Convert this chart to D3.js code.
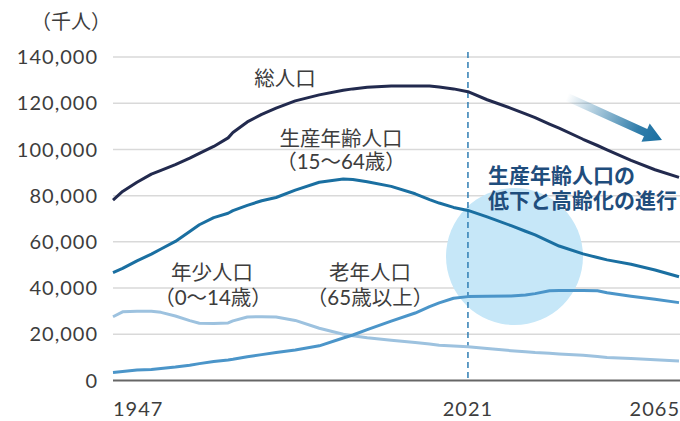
<!doctype html>
<html>
  <head>
    <meta charset="utf-8">
    <script src="https://cdn.jsdelivr.net/npm/d3@7"></script>
    <style>
      body { margin: 0; background: #fff; }
      text { font-family: Lato, "Noto Sans CJK JP", sans-serif; }
    </style>
  </head>
  <body>
    <div id="chart"></div>
    <script>
      // data (thousand people)
      var years    = [1947, 1949, 1952, 1955, 1957, 1960, 1963, 1965, 1968, 1971, 1972, 1975, 1978, 1981, 1985, 1990, 1995, 1997, 2000, 2005, 2010, 2013, 2015, 2018, 2021, 2025, 2030, 2033, 2035, 2038, 2040, 2045, 2048, 2050, 2055, 2060, 2065];
      var total    = [78100, 81800, 85800, 89300, 90900, 93400, 96200, 98300, 101300, 105000, 107300, 111900, 115200, 117900, 121000, 123600, 125600, 126200, 126900, 127500, 127500, 127400, 127000, 126200, 125000, 121500, 117800, 115400, 113800, 111000, 109200, 104400, 101700, 99800, 95300, 91200, 87900];
      var working  = [46700, 48500, 51800, 54700, 56900, 60200, 64500, 67400, 70500, 72400, 73500, 75800, 77800, 79200, 82400, 85800, 87200, 87000, 86000, 84000, 80800, 78300, 76800, 74900, 73600, 70800, 67000, 64600, 63000, 60100, 58200, 54800, 53200, 52200, 50300, 47800, 44900];
      var children = [27600, 29700, 30000, 30000, 29500, 27900, 25900, 24800, 24700, 24900, 25800, 27500, 27600, 27500, 26000, 22600, 20000, 19400, 18500, 17400, 16400, 15800, 15300, 14900, 14600, 13800, 12900, 12400, 12100, 11800, 11500, 10900, 10400, 10000, 9500, 9000, 8400];
      var elderly  = [3500, 3900, 4500, 4800, 5200, 5800, 6600, 7300, 8200, 8900, 9200, 10300, 11200, 12100, 13200, 15000, 18400, 19700, 22000, 25700, 29200, 32000, 33600, 35600, 36300, 36500, 36600, 37000, 37600, 38800, 38900, 38900, 38800, 38000, 36500, 35200, 33700];

      var yTicks = [0, 20000, 40000, 60000, 80000, 100000, 120000, 140000];
      var xTicks = [1947, 2021, 2065];
      var splitYear = 2021;

      var width = 680, height = 421;
      var svg = d3.select("#chart").append("svg")
        .attr("width", width)
        .attr("height", height);

      var x = d3.scaleLinear().domain([1947, 2065]).range([113, 679]);
      var y = d3.scaleLinear().domain([0, 140000]).range([380.5, 57]);

      // unit label
      svg.append("text")
        .attr("x", 31).attr("y", 29)
        .style("font-size", "20px").style("fill", "#3d3d3d")
        .text("（千人）");

      // grid
      svg.append("g")
        .selectAll("line")
        .data(yTicks.slice(1))
        .enter().append("line")
          .attr("x1", 113).attr("x2", 680)
          .attr("y1", function(d) { return y(d); })
          .attr("y2", function(d) { return y(d); })
          .attr("stroke", "#d9d9d9")
          .attr("stroke-width", 1.5);

      // y labels
      svg.append("g")
        .selectAll("text")
        .data(yTicks)
        .enter().append("text")
          .attr("x", 98)
          .attr("y", function(d) { return y(d); })
          .attr("dy", "0.36em")
          .attr("text-anchor", "end")
          .style("font-size", "20px")
          .style("letter-spacing", "1px")
          .style("fill", "#3d3d3d")
          .text(function(d) { return d3.format(",")(d); });

      // highlight circle
      svg.append("circle")
        .attr("cx", 514.5).attr("cy", 256.5).attr("r", 68.5)
        .attr("fill", "#c6e7f8");

      // baseline
      svg.append("line")
        .attr("x1", 113).attr("x2", 680)
        .attr("y1", y(0)).attr("y2", y(0))
        .attr("stroke", "#666666")
        .attr("stroke-width", 2);

      // x labels
      svg.append("g")
        .selectAll("text")
        .data(xTicks)
        .enter().append("text")
          .attr("x", function(d, i) { return i == xTicks.length - 1 ? 680 : x(d); })
          .attr("y", 416)
          .attr("text-anchor", function(d, i) { return i == 0 ? "start" : (i == xTicks.length - 1 ? "end" : "middle"); })
          .style("font-size", "20px")
          .style("letter-spacing", "1px")
          .style("fill", "#3d3d3d")
          .text(function(d) { return d; });

      // 2021 dashed line
      svg.append("line")
        .attr("x1", x(splitYear)).attr("x2", x(splitYear))
        .attr("y1", 52).attr("y2", y(0))
        .attr("stroke", "#2f7db3")
        .attr("stroke-width", 1.5)
        .attr("stroke-dasharray", "6,4");

      // lines
      var series = [
        { values: children, color: "#9dc2df" },
        { values: elderly,  color: "#4b95c9" },
        { values: working,  color: "#1a6fa1" },
        { values: total,    color: "#222a4e" }
      ];
      var line = d3.line()
        .x(function(d) { return x(d[0]); })
        .y(function(d) { return y(d[1]); });

      series.forEach(function(s) {
        svg.append("path")
          .datum(years.map(function(yr, i) { return [yr, s.values[i]]; }))
          .attr("d", line)
          .attr("fill", "none")
          .attr("stroke", s.color)
          .attr("stroke-width", 3)
          .attr("stroke-linejoin", "round");
      });

      // arrow with gradient
      var defs = svg.append("defs");
      var grad = defs.append("linearGradient")
        .attr("id", "arrowGrad")
        .attr("gradientUnits", "userSpaceOnUse")
        .attr("x1", 567).attr("y1", 97).attr("x2", 662).attr("y2", 140);
      grad.append("stop").attr("offset", "0").attr("stop-color", "#1a6fa1").attr("stop-opacity", 0);
      grad.append("stop").attr("offset", "0.75").attr("stop-color", "#1a6fa1").attr("stop-opacity", 0.9);
      grad.append("stop").attr("offset", "1").attr("stop-color", "#1a6fa1").attr("stop-opacity", 1);

      var ax0 = 567, ay0 = 97, ax1 = 662, ay1 = 140;
      var len = Math.hypot(ax1 - ax0, ay1 - ay0);
      var ux = (ax1 - ax0) / len, uy = (ay1 - ay0) / len;
      var nx = -uy, ny = ux;
      var headLen = 18, headW = 10, shaftW = 4;
      var bx = ax1 - ux * headLen, by = ay1 - uy * headLen;
      var pts = [
        [ax0 + nx * shaftW, ay0 + ny * shaftW],
        [bx + nx * shaftW, by + ny * shaftW],
        [bx + nx * headW, by + ny * headW],
        [ax1, ay1],
        [bx - nx * headW, by - ny * headW],
        [bx - nx * shaftW, by - ny * shaftW],
        [ax0 - nx * shaftW, ay0 - ny * shaftW]
      ];
      svg.append("polygon")
        .attr("points", pts.map(function(p) { return p.join(","); }).join(" "))
        .attr("fill", "url(#arrowGrad)");

      // series labels
      var labels = [
        { x: 285, y: 86, t: "総人口" },
        { x: 341, y: 146, t: "生産年齢人口" },
        { x: 341, y: 169, t: "（15～64歳）" },
        { x: 212, y: 280, t: "年少人口" },
        { x: 213, y: 305, t: "（0～14歳）" },
        { x: 370, y: 280, t: "老年人口" },
        { x: 370, y: 305, t: "（65歳以上）" }
      ];
      svg.append("g")
        .selectAll("text")
        .data(labels)
        .enter().append("text")
          .attr("x", function(d) { return d.x; })
          .attr("y", function(d) { return d.y; })
          .attr("text-anchor", "middle")
          .style("font-size", "20.5px")
          .style("fill", "#3d3d3d")
          .text(function(d) { return d.t; });

      // annotation
      var note = svg.append("text")
        .style("font-size", "21px")
        .style("font-weight", "bold")
        .style("fill", "#1f4d7c");
      note.append("tspan").attr("x", 488).attr("y", 183).text("生産年齢人口の");
      note.append("tspan").attr("x", 488).attr("y", 208).text("低下と高齢化の進行");
    </script>
  </body>
</html>
